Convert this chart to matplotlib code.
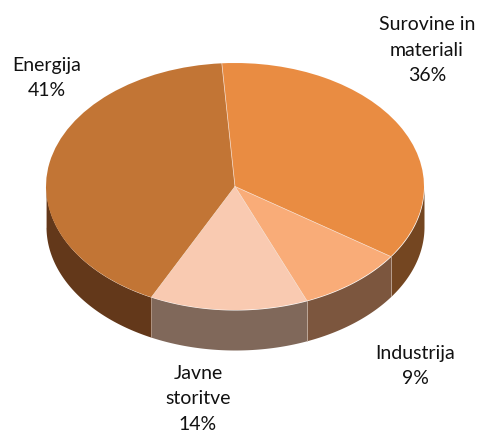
import numpy as np
import matplotlib
matplotlib.use("Agg")
import matplotlib.pyplot as plt

# clockwise from the top
labels = ["Surovine in\nmateriali\n36%", "Industrija\n9%", "Javne\nstoritve\n14%", "Energija\n41%"]
# slice shares as measured on the picture, the 3D view squeezes them a bit
# compared to the printed 36 / 9 / 14 / 41
values = [35.7, 9.2, 13.5, 41.6]
colors = ["#E98C42", "#F9AC78", "#F9CAB1", "#C27535"]
side_colors = ["#744621", "#7C563E", "#80685A", "#63381A"]
label_px = [(427, 50), (415, 366), (198, 399), (47, 78)]

W, H = 478, 435
CX, CY = 235, 187.5    # pie centre in pixels
RX, RY = 189, 123.5    # ellipse half axes in pixels
DEPTH = 40 / RY
START = 94

plt.rcParams['font.family'] = ['Lato', 'DejaVu Sans']
fig = plt.figure(figsize=(W / 100, H / 100), dpi=100)
ax = fig.add_axes([0, 0, 1, 1])

# walls first, the top goes over them
ends = START - np.cumsum(values) * 3.6
starts = ends + np.array(values) * 3.6
for a0, a1, c in zip(starts, ends, side_colors):
    for shift in (0, -360):
        lo = max(a1 + shift, -180)
        hi = min(a0 + shift, 0)
        if hi <= lo:
            continue
        t = np.radians(np.linspace(lo, hi, 120))
        ax.fill_between(np.cos(t), np.sin(t), np.sin(t) - DEPTH, color=c, lw=0, zorder=1)
        # thin light seam at the left end of each wall
        ax.plot([np.cos(t[0])] * 2, [np.sin(t[0]), np.sin(t[0]) - DEPTH],
                color="#C9B3A5", lw=0.5, zorder=1.5)

ax.pie(values, colors=colors, startangle=START, counterclock=False, radius=1,
       wedgeprops=dict(linewidth=0, zorder=2))

# seams on the top face only, no outline round the rim
for a in ends:
    t = np.radians(a)
    ax.plot([0, np.cos(t)], [0, np.sin(t)], color="#F6D9C6", lw=0.5, zorder=3)

# pie() forces a round shape, stretch it back to the ellipse
ax.set_aspect('auto')
ax.set_xlim(-CX / RX, (W - CX) / RX)
ax.set_ylim((CY - H) / RY, CY / RY)
ax.axis('off')

for txt, (px, py) in zip(labels, label_px):
    ax.text((px - CX) / RX, (CY - py) / RY, txt, ha='center', va='center',
            fontsize=14, color="#111111", linespacing=1.62, zorder=5)

fig.savefig("out.png", dpi=100)
